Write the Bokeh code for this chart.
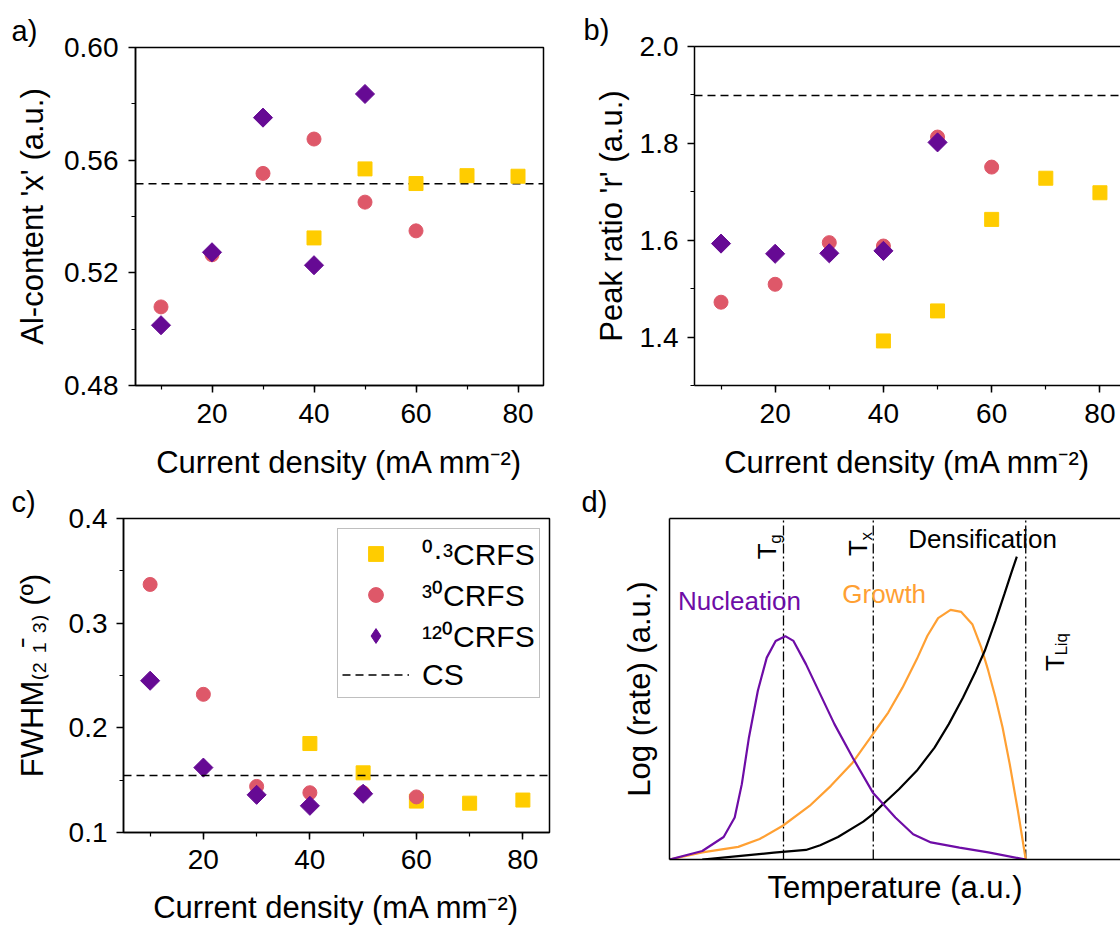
import numpy as np
from bokeh.plotting import figure
from bokeh.layouts import column, row
from bokeh.models import Range1d, SingleIntervalTicker, FixedTicker, PrintfTickFormatter, LinearAxis
from bokeh.core.properties import value
from bokeh.embed import file_html
from bokeh.resources import INLINE

FONT = "Liberation Sans"

# ---------------- data ----------------
x_03 = [40, 50, 60, 70, 80]
x_30 = [10, 20, 30, 40, 50, 60]
x_120 = [10, 20, 30, 40, 50]

al_03 = [0.5324, 0.5569, 0.5517, 0.5545, 0.5543]
al_30 = [0.5079, 0.5264, 0.5553, 0.5675, 0.5451, 0.5349]
al_120 = [0.5014, 0.5273, 0.5751, 0.5227, 0.5835]
al_cs = 0.5516

r_03 = [1.392, 1.454, 1.643, 1.728, 1.698]
r_30 = [1.472, 1.509, 1.595, 1.588, 1.813, 1.751]
r_120 = [1.593, 1.572, 1.573, 1.578, 1.802]
r_cs = 1.899

fw_03 = [0.185, 0.157, 0.130, 0.128, 0.131]
fw_30 = [0.337, 0.232, 0.144, 0.138, 0.138, 0.134]
fw_120 = [0.245, 0.162, 0.136, 0.1255, 0.137]
fw_cs = 0.1545

temp_nuc = [0.0, 0.092, 0.152, 0.183, 0.203, 0.223, 0.248, 0.273, 0.298, 0.325, 0.348,
            0.383, 0.423, 0.463, 0.514, 0.571, 0.634, 0.684, 0.734, 0.814, 0.895, 1.0]
rate_nuc = [0.0, 0.025, 0.066, 0.123, 0.221, 0.358, 0.495, 0.592, 0.641, 0.655, 0.641,
            0.573, 0.485, 0.397, 0.299, 0.196, 0.123, 0.074, 0.050, 0.035, 0.021, 0.0]

temp_gro = [0.0, 0.092, 0.193, 0.253, 0.318, 0.393, 0.453, 0.514, 0.571, 0.614, 0.654,
            0.694, 0.724, 0.754, 0.789, 0.819, 0.850, 0.875, 0.895, 0.915, 0.935, 0.955,
            0.978, 1.0]
rate_gro = [0.0, 0.021, 0.037, 0.060, 0.099, 0.157, 0.216, 0.284, 0.368, 0.431, 0.504,
            0.587, 0.656, 0.708, 0.732, 0.726, 0.690, 0.622, 0.553, 0.475, 0.387, 0.280,
            0.143, 0.0]

temp_den = [0.092, 0.193, 0.293, 0.383, 0.423, 0.473, 0.544, 0.571, 0.599, 0.644, 0.694,
            0.744, 0.784, 0.824, 0.860, 0.885, 0.915, 0.940, 0.960, 0.975]
rate_den = [0.0, 0.010, 0.020, 0.028, 0.042, 0.066, 0.111, 0.133, 0.162, 0.206, 0.260,
            0.328, 0.397, 0.475, 0.553, 0.612, 0.700, 0.778, 0.842, 0.888]

t_marks = [0.320, 0.572, 1.0]

YELLOW = "#FFCC00"
PINK = "#DE5869"
PURPLE = "#660A94"
NUC = "#6E0CA6"
ORANGE = "#FFA033"

X_A = (5, 85)
X_B = (5.1, 83.8)
X_C = (5, 85)
X_D = (0, 1.266)


def make_fig(w, h, left, right, top, bottom, xr, yr, letter, letter_offset, open_right=False):
    p = figure(width=w, height=h, x_range=Range1d(*xr), y_range=Range1d(*yr),
               output_backend="svg", toolbar_location=None,
               min_border_left=left, min_border_right=right,
               min_border_top=top, min_border_bottom=bottom)
    bx = p.below[0]
    ly = p.left[0]
    p.xgrid.visible = False
    p.ygrid.visible = False
    p.background_fill_color = "white"
    p.border_fill_color = "white"
    if open_right:
        # frame continues past the right edge of the page: no right border line
        p.outline_line_color = None
        top_ax = LinearAxis(ticker=FixedTicker(ticks=[]), major_tick_out=0, minor_tick_out=0,
                            major_tick_in=0, minor_tick_in=0, major_label_standoff=0,
                            axis_line_color="black", axis_line_width=1.5)
        p.add_layout(top_ax, "above")
    else:
        p.outline_line_color = "black"
        p.outline_line_width = 1.5
    p.title.text = letter
    p.title.align = "left"
    p.title.offset = letter_offset
    p.title.standoff = 1
    p.title.text_font = FONT
    p.title.text_font_size = "29px"
    p.title.text_font_style = "normal"
    p.title.text_color = "black"
    for ax in (bx, ly):
        ax.axis_line_color = "black"
        ax.axis_line_width = 1.5
        ax.major_tick_line_color = "black"
        ax.major_tick_line_width = 1.5
        ax.minor_tick_line_color = "black"
        ax.minor_tick_line_width = 1.2
        ax.major_tick_in = 0
        ax.major_tick_out = 7
        ax.minor_tick_in = 0
        ax.minor_tick_out = 4
        ax.major_label_text_font = FONT
        ax.major_label_text_font_size = "28px"
        ax.major_label_text_color = "black"
        ax.axis_label_text_font = FONT
        ax.axis_label_text_font_size = "31px"
        ax.axis_label_text_font_style = "normal"
        ax.axis_label_text_color = "black"
    return p, bx, ly


def scatter_three(p, xs3, ys3, xs30, ys30, xs120, ys120, legend=False):
    kw3 = dict(legend_label="\u2070\u00b7\u00b3CRFS") if legend else {}
    kw30 = dict(legend_label="\u00b3\u2070CRFS") if legend else {}
    p.scatter(xs3, ys3, marker="square", size=14, fill_color=YELLOW, line_color=YELLOW, **kw3)
    p.scatter(xs30, ys30, marker="circle", size=14, fill_color=PINK, line_color=PINK, **kw30)
    if legend:
        # diamond-marker copy (hidden beneath the rotated squares) that supplies the legend swatch
        p.scatter(xs120, ys120, marker="diamond", size=13, fill_color=PURPLE,
                  line_color=PURPLE, legend_label="\u00b9\u00b2\u2070CRFS")
    p.scatter(xs120, ys120, marker="square", angle=np.pi / 4, size=13.5,
              fill_color=PURPLE, line_color=PURPLE)


XLABEL = "Current density (mA mm\u207b\u00b2)"
DASH = "8 5"

# ---------------- panel a ----------------
pa, ax_a, ay_a = make_fig(560, 482, 135, 17, 47, 95, X_A, (0.48, 0.60), "a)", -124)
ax_a.ticker = SingleIntervalTicker(interval=20, num_minor_ticks=2)
ay_a.ticker = SingleIntervalTicker(interval=0.04, num_minor_ticks=2)
ay_a.formatter = PrintfTickFormatter(format="%.2f")
ax_a.axis_label = XLABEL
ay_a.axis_label = "Al-content 'x' (a.u.)"
ax_a.major_label_standoff = 11
ax_a.axis_label_standoff = 19
ay_a.major_label_standoff = 10
ay_a.axis_label_standoff = 11
pa.line(list(X_A), [al_cs, al_cs], line_color="black", line_width=1.5, line_dash=DASH)
scatter_three(pa, x_03, al_03, x_30, al_30, x_120, al_120)

# ---------------- panel b ----------------
pb, ax_b, ay_b = make_fig(560, 482, 134, 0, 46, 97, X_B, (1.3, 2.0), "b)", -111,
                          open_right=True)
ax_b.ticker = SingleIntervalTicker(interval=20, num_minor_ticks=2)
ay_b.ticker = SingleIntervalTicker(interval=0.2, num_minor_ticks=2)
ay_b.formatter = PrintfTickFormatter(format="%.1f")
ax_b.axis_label = XLABEL
ay_b.axis_label = "Peak ratio 'r' (a.u.)"
ax_b.major_label_standoff = 11
ax_b.axis_label_standoff = 19
ay_b.major_label_standoff = 9
ay_b.axis_label_standoff = 8
pb.line(list(X_B), [r_cs, r_cs], line_color="black", line_width=1.5, line_dash=DASH)
scatter_three(pb, x_03, r_03, x_30, r_30, x_120, r_120)

# ---------------- panel c ----------------
pc, ax_c, ay_c = make_fig(560, 446, 123, 11, 36, 96, X_C, (0.1, 0.4), "c)", -112)
ax_c.ticker = SingleIntervalTicker(interval=20, num_minor_ticks=2)
ay_c.ticker = SingleIntervalTicker(interval=0.1, num_minor_ticks=2)
ay_c.formatter = PrintfTickFormatter(format="%.1f")
ax_c.axis_label = XLABEL
ay_c.axis_label = "FWHM\u208d\u2082 \u2081\u0304 \u2083\u208e (\u00ba)"
ax_c.major_label_standoff = 10
ax_c.axis_label_standoff = 18
ay_c.major_label_standoff = 9
ay_c.axis_label_standoff = 16
scatter_three(pc, x_03, fw_03, x_30, fw_30, x_120, fw_120, legend=True)
pc.line(list(X_C), [fw_cs, fw_cs], line_color="black", line_width=1.5, line_dash=DASH,
        legend_label="CS")
lg = pc.legend[0]
lg.location = (214, 134)
lg.border_line_color = "#808080"
lg.border_line_width = 1.5
lg.background_fill_alpha = 1.0
lg.label_text_font = FONT
lg.label_text_font_size = "30px"
lg.label_text_color = "black"
lg.glyph_width = 67
lg.glyph_height = 37
lg.label_height = 37
lg.label_standoff = 13
lg.spacing = 0
lg.padding = 4
lg.margin = 0

# ---------------- panel d ----------------
pd_, ax_d, ay_d = make_fig(560, 446, 109, 0, 36, 69, X_D, (0, 1), "d)", -88,
                           open_right=True)
for ax in (ax_d, ay_d):
    ax.ticker = FixedTicker(ticks=[])
    ax.major_tick_out = 0
    ax.minor_tick_out = 0
    ax.major_label_standoff = 0
ax_d.axis_label = "Temperature (a.u.)"
ay_d.axis_label = "Log (rate) (a.u.)"
ax_d.axis_label_standoff = 10
ay_d.axis_label_standoff = 13
pd_.segment(x0=t_marks, y0=[0] * 3, x1=t_marks, y1=[1] * 3, line_color="black",
            line_width=1.3, line_dash="10 3 2 3")
pd_.line(temp_gro, rate_gro, line_color=ORANGE, line_width=2.2)
pd_.line(temp_den, rate_den, line_color="black", line_width=2.2)
pd_.line(temp_nuc, rate_nuc, line_color=NUC, line_width=2.2)

txt = dict(text_font=value(FONT), text_font_size="26px")
pd_.text(x=[0.024], y=[0.758], text=["Nucleation"], text_color=NUC,
         text_align="left", text_baseline="middle", **txt)
pd_.text(x=[0.485], y=[0.780], text=["Growth"], text_color=ORANGE,
         text_align="left", text_baseline="middle", **txt)
pd_.text(x=[0.670], y=[0.939], text=["Densification"], text_color="black",
         text_align="left", text_baseline="middle", **txt)
# rotated temperature markers: main "T" and subscript
pd_.text(x=[0.2743, 0.5295, 1.0817], y=[0.8806, 0.8903, 0.5531], text=["T", "T", "T"],
         angle=np.pi / 2, text_color="black", text_align="left",
         text_baseline="alphabetic", **txt)
pd_.text(x=[0.2979, 0.5522, 1.0997], y=[0.9261, 0.9352, 0.5979], text=["g", "x", "Liq"],
         angle=np.pi / 2, text_color="black", text_align="left",
         text_baseline="alphabetic", text_font=value(FONT), text_font_size="17px")

layout = column(row(pa, column(pb)), row(pc, column(pd_)))
open("out.html", "w").write(file_html(layout, INLINE))
